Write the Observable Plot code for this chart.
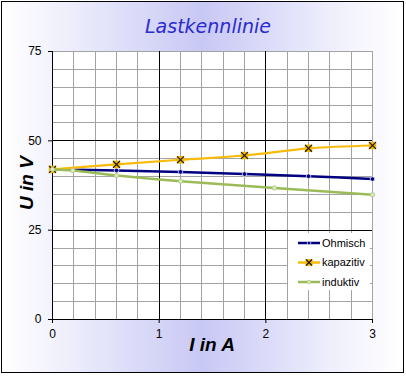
<!DOCTYPE html>
<html>
<head>
<meta charset="utf-8">
<script src="https://cdn.jsdelivr.net/npm/d3@7"></script>
<script src="https://cdn.jsdelivr.net/npm/@observablehq/plot@0.6"></script>
<style>
  html, body { margin: 0; padding: 0; background: #fff; }
  #wrap { position: relative; width: 406px; height: 376px; overflow: hidden; font-family: "Liberation Sans", Arial, sans-serif; }
  #bg { position: absolute; left: 1px; top: 1px; width: 401px; height: 370px; border: 1px solid #000;
        background: linear-gradient(to right, #ffffff 0%, #f3f3fd 12%, #c8c8f5 50%, #f3f3fd 86%, #ffffff 100%); }
  #chart { position: absolute; left: 0; top: 0; }
  .lbl { position: absolute; white-space: nowrap; }
  #title { left: 208px; top: 16px; transform: translateX(-50%); font-size: 19px; line-height: 20px; font-style: italic; color: #2a2ad0; letter-spacing: 0px; font-family: "DejaVu Sans", sans-serif; font-weight: 200; }
  #xlab { left: 212px; top: 335px; transform: translateX(-50%); font-size: 19px; line-height: 19px; font-weight: bold; font-style: italic; color: #000; }
  #ylab { left: 26px; top: 183px; transform: translate(-50%, -50%) rotate(-90deg); font-size: 19px; line-height: 19px; font-weight: bold; font-style: italic; color: #000; }
  #legend { position: absolute; left: 288px; top: 233px; width: 82px; height: 57px; background: #fff; }
</style>
</head>
<body>
<div id="wrap">
  <div id="bg"></div>
  <div id="chart"></div>
  <div class="lbl" id="title">Lastkennlinie</div>
  <div class="lbl" id="xlab">I in A</div>
  <div class="lbl" id="ylab">U in V</div>
  <div id="legend"></div>
</div>
<script>
// ---- data ----
const seriesNames = ["Ohmisch", "kapazitiv", "induktiv"];
const ohmX = [0, 0.6, 1.2, 1.8, 2.4, 3.0];
const ohmU = [42.0, 41.7, 41.3, 40.7, 40.1, 39.3];
const kapX = [0, 0.6, 1.2, 1.8, 2.4, 3.0];
const kapU = [42.0, 43.4, 44.7, 45.9, 47.9, 48.7];
const indX = [0, 0.19, 0.6, 1.2, 2.08, 3.0];
const indU = [42.0, 41.7, 40.3, 38.7, 36.8, 34.9];

const xTicks = [0, 1, 2, 3];
const yTicks = [0, 25, 50, 75];
const xMinor = [0.2, 0.4, 0.6, 0.8, 1.2, 1.4, 1.6, 1.8, 2.2, 2.4, 2.6, 2.8, 3];
const yMinor = [5, 10, 15, 20, 30, 35, 40, 45, 55, 60, 65, 70, 75];
const xMajor = [1, 2];
const yMajor = [25, 50];

const colors = { Ohmisch: "#000080", kapazitiv: "#f9bb0a", induktiv: "#9bbb59" };

const ohm = ohmX.map((x, i) => ({ x, u: ohmU[i] }));
const kap = kapX.map((x, i) => ({ x, u: kapU[i] }));
const ind = indX.map((x, i) => ({ x, u: indU[i] }));

const chart = Plot.plot({
  width: 406,
  height: 376,
  marginLeft: 52,
  marginRight: 34,
  marginTop: 51,
  marginBottom: 57,
  style: { background: "transparent", fontFamily: "Liberation Sans, Arial, sans-serif", fontSize: "12px", color: "#000" },
  x: { domain: [0, 3] },
  y: { domain: [0, 75] },
  marks: [
    Plot.frame({ fill: "white", stroke: "none" }),
    Plot.ruleX(xMinor, { stroke: "#a3a3a3", strokeWidth: 1, shapeRendering: "crispEdges" }),
    Plot.ruleY(yMinor, { stroke: "#a3a3a3", strokeWidth: 1, shapeRendering: "crispEdges" }),
    Plot.ruleX(xMajor, { stroke: "#000", strokeWidth: 1, shapeRendering: "crispEdges" }),
    Plot.ruleY(yMajor, { stroke: "#000", strokeWidth: 1, shapeRendering: "crispEdges" }),
    Plot.ruleX([0], { stroke: "#000", strokeWidth: 1, shapeRendering: "crispEdges" }),
    Plot.ruleY([0], { stroke: "#000", strokeWidth: 1, shapeRendering: "crispEdges" }),
    Plot.axisY({ ticks: yTicks, tickFormat: d3.format("d"), tickSize: 4, tickPadding: 7, fontSize: 12, label: null, stroke: "#000" }),
    Plot.axisX({ ticks: xTicks, tickFormat: d3.format("d"), tickSize: 4, tickPadding: 6, fontSize: 12, label: null, stroke: "#000" }),
    // Ohmisch
    Plot.line(ohm, { x: "x", y: "u", stroke: colors.Ohmisch, strokeWidth: 2.5, curve: "catmull-rom" }),
    Plot.dot(ohm, { x: "x", y: "u", r: 2.3, fill: colors.Ohmisch, stroke: "#e8e8ff", strokeWidth: 0.8 }),
    // kapazitiv
    Plot.line(kap, { x: "x", y: "u", stroke: colors.kapazitiv, strokeWidth: 2.2, curve: "catmull-rom" }),
    Plot.dot(kap, { x: "x", y: "u", symbol: "square", r: 4.2, fill: "#f0b800", stroke: "none" }),
    Plot.dot(kap, { x: "x", y: "u", symbol: "times", r: 3.2, stroke: "#1a1a1a", strokeWidth: 1.2 }),
    // induktiv
    Plot.line(ind, { x: "x", y: "u", stroke: colors.induktiv, strokeWidth: 2.5, curve: "catmull-rom" }),
    Plot.dot(ind, { x: "x", y: "u", r: 2.2, fill: "#dde8c4", stroke: "#a9c478", strokeWidth: 0.8 })
  ]
});
document.getElementById("chart").appendChild(chart);

// ---- legend ----
const lg = d3.select("#legend").append("svg").attr("width", 82).attr("height", 57);
seriesNames.forEach((name, i) => {
  const y = 10 + i * 19.5;
  const g = lg.append("g");
  g.append("line").attr("x1", 10).attr("x2", 32).attr("y1", y).attr("y2", y)
    .attr("stroke", colors[name]).attr("stroke-width", 2.5);
  if (name === "Ohmisch") {
    g.append("circle").attr("cx", 21).attr("cy", y).attr("r", 1.8).attr("fill", colors[name]).attr("stroke", "#e8e8ff").attr("stroke-width", 0.7);
  } else if (name === "kapazitiv") {
    g.append("rect").attr("x", 17.5).attr("y", y - 3.5).attr("width", 7).attr("height", 7).attr("fill", "#f0b800");
    g.append("path").attr("d", `M${18},${y - 3}L${24},${y + 3}M${18},${y + 3}L${24},${y - 3}`).attr("stroke", "#1a1a1a").attr("stroke-width", 1.2);
  } else {
    g.append("circle").attr("cx", 21).attr("cy", y).attr("r", 1.8).attr("fill", "#dde8c4").attr("stroke", "#a9c478").attr("stroke-width", 0.7);
  }
  g.append("text").attr("x", 34).attr("y", y).attr("dy", "0.36em")
    .attr("font-family", "Liberation Sans, Arial, sans-serif").attr("font-size", 11).attr("fill", "#000")
    .text(name);
});
</script>
</body>
</html>
